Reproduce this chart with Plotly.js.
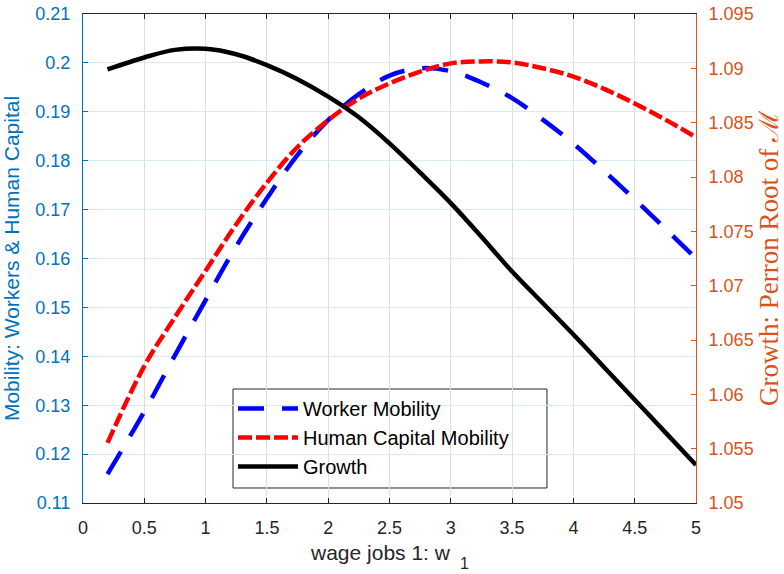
<!DOCTYPE html>
<html>
<head>
<meta charset="utf-8">
<script src="https://cdn.plot.ly/plotly-3.0.1.min.js"></script>
<style>
  html, body { margin: 0; padding: 0; background: #ffffff; }
  #chart { width: 784px; height: 574px; }
</style>
</head>
<body>
<div id="chart"></div>
<script>
// ---- data ----
const wage = [0.2, 0.5, 0.75, 1, 1.25, 1.5, 1.75, 2, 2.25, 2.5, 2.75, 3, 3.25, 3.5, 3.75, 4, 4.25, 4.5, 4.75, 5];
const workerMobility = [0.1159, 0.1287, 0.1402, 0.1515, 0.1625, 0.1723, 0.1812, 0.1883, 0.1936, 0.1974, 0.1989, 0.1983, 0.1960, 0.1928, 0.1884, 0.1835, 0.1779, 0.1721, 0.1661, 0.1600];
const humanCapitalMobility = [0.1223, 0.1380, 0.1480, 0.1575, 0.1670, 0.1755, 0.1828, 0.1883, 0.1927, 0.1958, 0.1982, 0.1999, 0.2003, 0.2001, 0.1989, 0.1972, 0.1947, 0.1917, 0.1884, 0.1848];
const growth = [1.0899, 1.0910, 1.0917, 1.0918, 1.0913, 1.0903, 1.0890, 1.0874, 1.0855, 1.0831, 1.0804, 1.0776, 1.0745, 1.0713, 1.0684, 1.0655, 1.0625, 1.0595, 1.0565, 1.0535];

const xTicks = [0, 0.5, 1, 1.5, 2, 2.5, 3, 3.5, 4, 4.5, 5];
const xTickText = ['0', '0.5', '1', '1.5', '2', '2.5', '3', '3.5', '4', '4.5', '5'];
const yLeftTicks = [0.11, 0.12, 0.13, 0.14, 0.15, 0.16, 0.17, 0.18, 0.19, 0.2, 0.21];
const yLeftText = ['0.11', '0.12', '0.13', '0.14', '0.15', '0.16', '0.17', '0.18', '0.19', '0.2', '0.21'];
const yRightTicks = [1.05, 1.055, 1.06, 1.065, 1.07, 1.075, 1.08, 1.085, 1.09, 1.095];
const yRightText = ['1.05', '1.055', '1.06', '1.065', '1.07', '1.075', '1.08', '1.085', '1.09', '1.095'];

const names = ['Worker Mobility', 'Human Capital Mobility', 'Growth'];
const titles = {
  x: 'wage jobs 1: w',
  xSub: '1',
  yLeft: 'Mobility: Workers &amp; Human Capital',
  yRight: 'Growth: Perron Root of \u2133'
};

// ---- styling ----
const BLUE_AX = '#0072BD';
const ORANGE_AX = '#D95319';
const DARK = '#262626';
const SANS = '"Liberation Sans", Arial, Helvetica, sans-serif';
const SERIF = '"Liberation Serif", "Times New Roman", serif';

const traces = [
  {
    x: wage, y: workerMobility, name: names[0], type: 'scatter', mode: 'lines',
    line: { color: '#0000FF', width: 4.5, dash: '26px,18px', shape: 'spline', smoothing: 1 },
    yaxis: 'y'
  },
  {
    x: wage, y: humanCapitalMobility, name: names[1], type: 'scatter', mode: 'lines',
    line: { color: '#FF0000', width: 4.5, dash: '14px,4px', shape: 'spline', smoothing: 1 },
    yaxis: 'y'
  },
  {
    x: wage, y: growth, name: names[2], type: 'scatter', mode: 'lines',
    line: { color: '#000000', width: 4.5, shape: 'spline', smoothing: 1 },
    yaxis: 'y2'
  }
];

const layout = {
  width: 784,
  height: 574,
  margin: { l: 83, r: 88, t: 14, b: 71, pad: 0 },
  paper_bgcolor: '#ffffff',
  plot_bgcolor: '#ffffff',
  font: { family: SANS, size: 18, color: DARK },
  showlegend: true,
  legend: {
    x: 0.2447, y: 0.2331, xanchor: 'left', yanchor: 'top',
    bgcolor: 'rgba(0,0,0,0)', borderwidth: 0,
    font: { family: SANS, size: 20, color: '#000000' },
    itemwidth: 60,
    tracegroupgap: 0
  },
  shapes: [
    {
      type: 'rect', xref: 'paper', yref: 'paper',
      x0: 0.2447, x1: 0.7569, y0: 0.0307, y1: 0.2331,
      fillcolor: '#ffffff', line: { color: DARK, width: 1 },
      layer: 'between'
    }
  ],
  xaxis: {
    range: [0, 5],
    tickvals: xTicks, ticktext: xTickText,
    ticks: 'inside', ticklen: 5, tickwidth: 1, tickcolor: DARK,
    showline: true, linecolor: DARK, linewidth: 1, mirror: 'ticks',
    showgrid: true, gridcolor: '#dedede', gridwidth: 1,
    zeroline: false,
    tickfont: { family: SANS, size: 18, color: DARK },
    ticklabelstandoff: 8,
    title: { text: '' }
  },
  yaxis: {
    range: [0.11, 0.21],
    tickvals: yLeftTicks, ticktext: yLeftText,
    ticks: 'inside', ticklen: 5, tickwidth: 1, tickcolor: BLUE_AX,
    showline: true, linecolor: BLUE_AX, linewidth: 1,
    showgrid: true, gridcolor: '#d9eaf5', gridwidth: 1,
    zeroline: false,
    tickfont: { family: SANS, size: 18, color: BLUE_AX },
    ticklabelstandoff: 8,
    title: { text: titles.yLeft, font: { family: SANS, size: 21, color: BLUE_AX }, standoff: 12 }
  },
  yaxis2: {
    range: [1.05, 1.095],
    overlaying: 'y', side: 'right',
    tickvals: yRightTicks, ticktext: yRightText,
    ticks: 'inside', ticklen: 5, tickwidth: 1, tickcolor: ORANGE_AX,
    showline: true, linecolor: ORANGE_AX, linewidth: 1,
    showgrid: false, zeroline: false,
    tickfont: { family: SANS, size: 18, color: ORANGE_AX },
    ticklabelstandoff: 8,
    title: { text: titles.yRight, font: { family: SERIF, size: 27, color: ORANGE_AX }, standoff: 8 }
  },
  annotations: [
    {
      text: titles.x, xref: 'paper', yref: 'paper',
      x: 0.486, y: -0.1022, xanchor: 'center', yanchor: 'middle',
      showarrow: false, font: { family: SANS, size: 21, color: DARK }
    },
    {
      text: titles.xSub, xref: 'paper', yref: 'paper',
      x: 0.622, y: -0.1431, xanchor: 'center', yanchor: 'bottom',
      borderpad: 0,
      showarrow: false, font: { family: SANS, size: 16, color: DARK }
    }
  ]
};

Plotly.newPlot('chart', traces, layout, { displayModeBar: false, staticPlot: true });
</script>
</body>
</html>
